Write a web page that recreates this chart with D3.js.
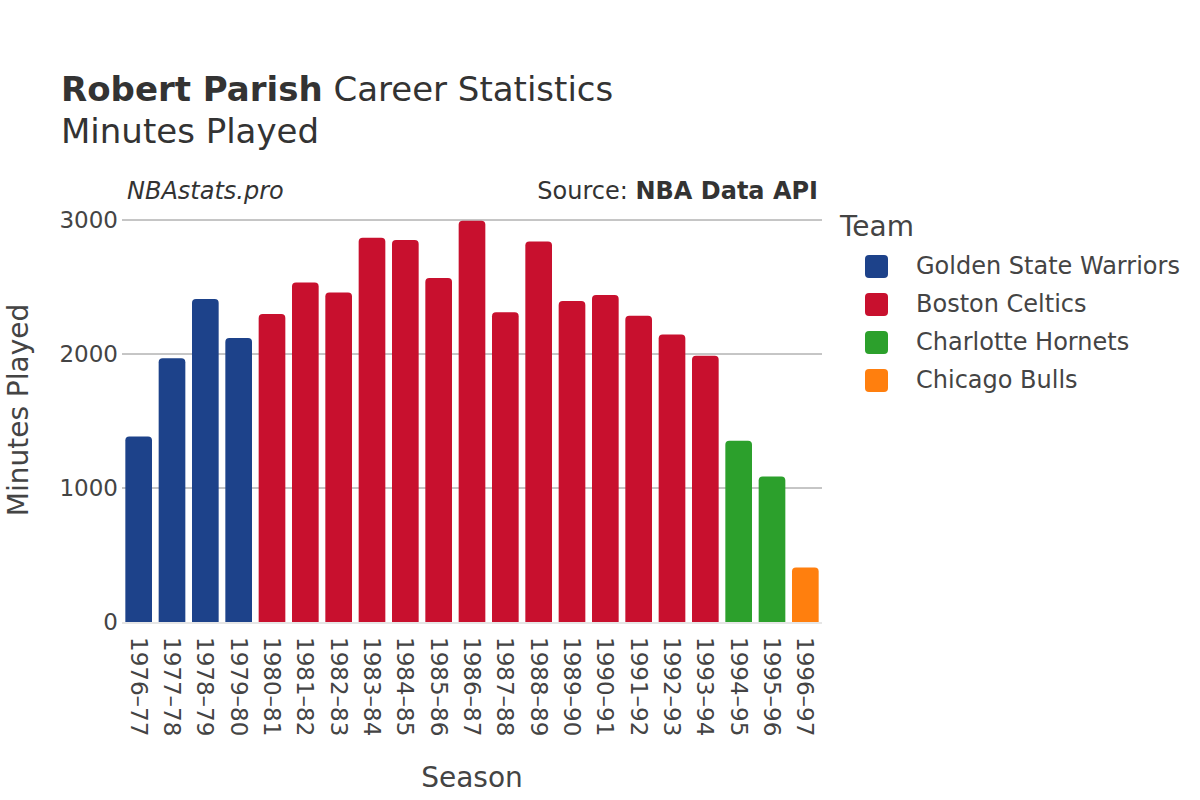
<!DOCTYPE html>
<html><head><meta charset="utf-8">
<script src="https://cdn.jsdelivr.net/npm/d3@7"></script>
<style>body{margin:0;background:#fff;}svg{font-family:"DejaVu Sans",sans-serif;}</style>
</head><body>
<svg id="chart" width="1200" height="800"></svg>
<script>
const seasons = ["1976–77","1977–78","1978–79","1979–80","1980–81","1981–82","1982–83","1983–84","1984–85","1985–86","1986–87","1987–88","1988–89","1989–90","1990–91","1991–92","1992–93","1993–94","1994–95","1995–96","1996–97"];
const minutes = [1384,1969,2411,2119,2298,2534,2459,2867,2850,2567,2995,2312,2840,2396,2441,2285,2146,1987,1352,1086,406];
const teams = ["GSW","GSW","GSW","GSW","BOS","BOS","BOS","BOS","BOS","BOS","BOS","BOS","BOS","BOS","BOS","BOS","BOS","BOS","CHH","CHH","CHI"];
const teamCodes = ["GSW","BOS","CHH","CHI"];
const teamNames = ["Golden State Warriors","Boston Celtics","Charlotte Hornets","Chicago Bulls"];
const teamColors = ["#1d428a","#c8102e","#2ca02c","#ff7f0e"];
const yTicks = [0,1000,2000,3000];

const svg = d3.select("#chart");
const M = {left:122, right:822, top:220, bottom:622};
const x = d3.scaleBand().domain(seasons).range([M.left, M.right]).paddingInner(0.2).paddingOuter(0.1);
const y = d3.scaleLinear().domain([0,3000]).range([M.bottom, M.top]);
const color = d3.scaleOrdinal().domain(teamCodes).range(teamColors);

// gridlines
svg.append("g").selectAll("line").data(yTicks.filter(d=>d>0)).join("line")
  .attr("x1",M.left).attr("x2",M.right).attr("y1",d=>y(d)).attr("y2",d=>y(d))
  .attr("stroke","#8c8c8c").attr("stroke-width",1);

// bars with rounded top
const r = 4;
svg.append("g").selectAll("path").data(seasons).join("path")
  .attr("fill",(d,i)=>color(teams[i]))
  .attr("d",(d,i)=>{
    const x0 = x(d), w = x.bandwidth(), y0 = y(minutes[i]), yb = y(0);
    return `M${x0},${yb}V${y0+r}Q${x0},${y0} ${x0+r},${y0}H${x0+w-r}Q${x0+w},${y0} ${x0+w},${y0+r}V${yb}Z`;
  });

// zero line
svg.append("line").attr("x1",M.left).attr("x2",M.right).attr("y1",y(0)+1).attr("y2",y(0)+1)
  .attr("stroke","#e6e6e6").attr("stroke-width",2);

// y axis
const ya = svg.append("g").attr("transform",`translate(${M.left},0)`)
  .call(d3.axisLeft(y).tickValues(yTicks).tickSize(0).tickPadding(4).tickFormat(d3.format("d")));
ya.select(".domain").remove();
ya.selectAll("text").attr("font-size",23).attr("fill","#444").attr("font-family","DejaVu Sans");

// x axis
const xa = svg.append("g").attr("transform",`translate(0,${M.bottom})`)
  .call(d3.axisBottom(x).tickSize(0));
xa.select(".domain").remove();
xa.selectAll("text").attr("font-size",23).attr("fill","#444").attr("font-family","DejaVu Sans")
  .attr("transform","rotate(90)").attr("text-anchor","start").attr("dy","0.35em").attr("x",15).attr("y",0);

// titles
const t = svg.append("text").attr("x",61).attr("y",101).attr("font-size",34).attr("fill","#333");
t.append("tspan").attr("font-weight","bold").text("Robert Parish");
t.append("tspan").text(" Career Statistics");
svg.append("text").attr("x",61).attr("y",143).attr("font-size",34).attr("fill","#333").text("Minutes Played");

svg.append("text").attr("x",127).attr("y",199).attr("font-size",24).attr("font-style","italic").attr("fill","#333").text("NBAstats.pro");
const s = svg.append("text").attr("x",818).attr("y",199).attr("font-size",24).attr("text-anchor","end").attr("fill","#333");
s.append("tspan").text("Source: ");
s.append("tspan").attr("font-weight","bold").text("NBA Data API");

svg.append("text").attr("transform","translate(28,410) rotate(-90)").attr("text-anchor","middle")
  .attr("font-size",28).attr("fill","#444").text("Minutes Played");
svg.append("text").attr("x",472).attr("y",787).attr("text-anchor","middle")
  .attr("font-size",28).attr("fill","#444").text("Season");

// legend
svg.append("text").attr("x",840).attr("y",236).attr("font-size",28).attr("fill","#444").text("Team");
const lg = svg.append("g").selectAll("g").data(teamCodes).join("g")
  .attr("transform",(d,i)=>`translate(865,${266+i*38})`);
lg.append("rect").attr("x",0).attr("y",-11).attr("width",23).attr("height",23).attr("rx",4)
  .attr("fill",d=>color(d));
lg.append("text").attr("x",51).attr("y",0).attr("dy","0.35em").attr("font-size",24).attr("fill","#444")
  .text((d,i)=>teamNames[i]);
</script>
</body></html>
